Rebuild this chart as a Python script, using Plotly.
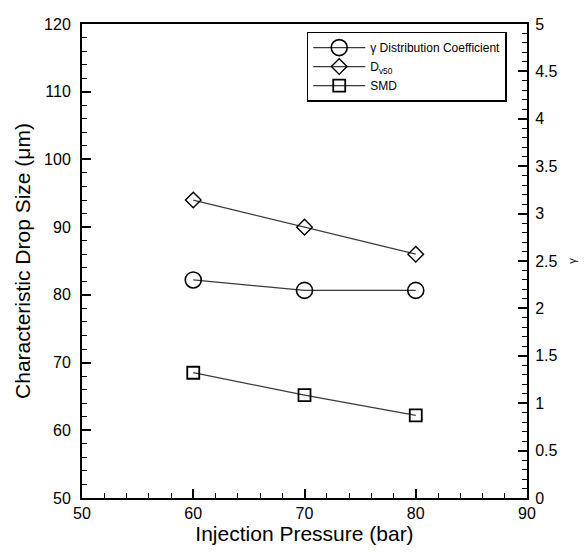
import plotly.graph_objects as go

pressure = [60, 70, 80]
gamma_coef = [2.30, 2.19, 2.19]
dv50 = [94.0, 90.0, 86.0]
smd = [68.5, 65.2, 62.2]

font_family = "Liberation Sans, Arial, sans-serif"

fig = go.Figure()
fig.add_trace(go.Scatter(
    x=pressure, y=gamma_coef, yaxis="y2", mode="lines+markers",
    name="γ Distribution Coefficient",
    line=dict(color="#3a3a3a", width=1.3),
    marker=dict(symbol="circle-open", size=16, color="black", line=dict(width=1.6, color="black")),
))
fig.add_trace(go.Scatter(
    x=pressure, y=dv50, mode="lines+markers",
    name="D<sub>v50</sub>",
    line=dict(color="#3a3a3a", width=1.3),
    marker=dict(symbol="diamond-open", size=12, color="black", line=dict(width=1.4, color="black")),
))
fig.add_trace(go.Scatter(
    x=pressure, y=smd, mode="lines+markers",
    name="SMD",
    line=dict(color="#3a3a3a", width=1.3),
    marker=dict(symbol="square-open", size=12, color="black", line=dict(width=1.8, color="black")),
))

axis_common = dict(
    showgrid=False, zeroline=False, showline=True, linecolor="black", linewidth=2,
    ticks="inside", tickcolor="black", tickwidth=2, ticklen=9,
    tickfont=dict(size=16, color="black", family=font_family),
)

fig.update_layout(
    width=579, height=544,
    margin=dict(l=74, r=60, t=8, b=54),
    paper_bgcolor="white", plot_bgcolor="white",
    font=dict(family=font_family, color="black"),
    xaxis=dict(
        range=[50, 90], dtick=10, mirror=True,
        minor=dict(ticks="inside", dtick=2, ticklen=5, tickwidth=1, tickcolor="black"),
        title=dict(text="Injection Pressure (bar)", font=dict(size=21, color="black"), standoff=4),
        ticklabelstandoff=0,
        **axis_common,
    ),
    yaxis=dict(
        range=[50, 120], dtick=10,
        minor=dict(ticks="inside", dtick=2, ticklen=5, tickwidth=1, tickcolor="black"),
        title=dict(text="Characteristic Drop Size (μm)", font=dict(size=21, color="black"), standoff=8),
        ticklabelstandoff=6,
        **axis_common,
    ),
    yaxis2=dict(
        range=[0, 5], dtick=0.5, overlaying="y", side="right",
        minor=dict(ticks="inside", dtick=0.1, ticklen=5, tickwidth=1, tickcolor="black"),
        title=dict(text="γ", font=dict(size=11, color="black"), standoff=12),
        ticklabelstandoff=3,
        **axis_common,
    ),
    legend=dict(
        x=0.505, y=0.984, xanchor="left", yanchor="top",
        bordercolor="black", borderwidth=1.5, bgcolor="white",
        font=dict(size=12, color="black", family=font_family),
        tracegroupgap=0, itemwidth=52,
    ),
)

fig.write_html("out.html")
